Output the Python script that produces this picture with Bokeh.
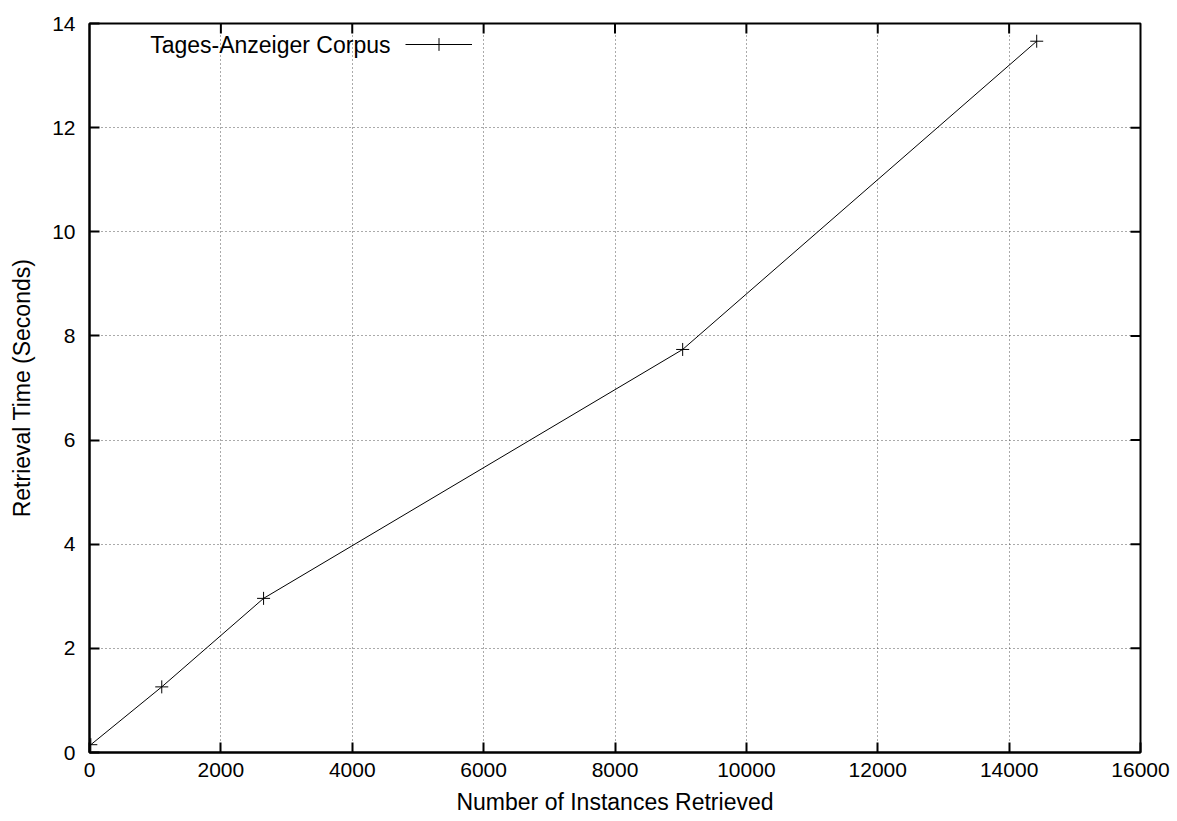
import math
from bokeh.plotting import figure
from bokeh.models import (FixedTicker, Range1d, Legend, LegendItem, Label,
                          ColumnDataSource)
from bokeh.embed import file_html
from bokeh.resources import INLINE

instances = [20, 1100, 2650, 9030, 14420]
seconds = [0.15, 1.26, 2.96, 7.74, 13.66]
series_name = "Tages-Anzeiger Corpus"
x_ticks = [0, 2000, 4000, 6000, 8000, 10000, 12000, 14000, 16000]
y_ticks = [0, 2, 4, 6, 8, 10, 12, 14]

FONT = "Liberation Sans"
FS_TICK = "21px"
FS_LABEL = "23px"

x_min, x_max = x_ticks[0], x_ticks[-1]
y_min, y_max = y_ticks[0], y_ticks[-1]

p = figure(width=1170, height=821, output_backend="svg", toolbar_location=None,
           x_range=Range1d(x_min, x_max), y_range=Range1d(y_min, y_max),
           min_border_left=89, min_border_right=30, min_border_top=23, min_border_bottom=69,
           x_axis_label="Number of Instances Retrieved",
           y_axis_label="Retrieval Time (Seconds)")
p.outline_line_color = "black"
p.outline_line_width = 2
p.background_fill_color = "white"
p.border_fill_color = "white"

def style_axis(ax, ticks):
    ax.ticker = FixedTicker(ticks=ticks)
    ax.major_tick_in = 10
    ax.major_tick_out = 0
    ax.minor_tick_line_color = None
    ax.axis_line_width = 2
    ax.major_tick_line_width = 2
    ax.axis_line_color = "black"
    ax.major_tick_line_color = "black"
    ax.major_label_text_font = FONT
    ax.major_label_text_font_size = FS_TICK
    ax.major_label_text_color = "black"
    ax.axis_label_text_font = FONT
    ax.axis_label_text_font_size = FS_LABEL
    ax.axis_label_text_font_style = "normal"
    ax.axis_label_text_color = "black"

style_axis(p.xaxis[0], x_ticks)
style_axis(p.yaxis[0], y_ticks)
p.xaxis[0].major_label_standoff = 10
p.xaxis[0].axis_label_standoff = 9
p.yaxis[0].major_label_standoff = 14
p.yaxis[0].axis_label_standoff = 14

for g in (p.xgrid[0], p.ygrid[0]):
    g.grid_line_color = "#555555"
    g.grid_line_dash = "1 3"
    g.grid_line_width = 1
p.xgrid[0].ticker = FixedTicker(ticks=x_ticks[1:-1])
p.ygrid[0].ticker = FixedTicker(ticks=y_ticks[1:-1])

# mirrored inward ticks on the top and right edges (half of each dash is clipped by the frame)
p.scatter(x_ticks[1:-1], [y_max] * (len(x_ticks) - 2), marker="dash", angle=math.pi / 2,
          size=20, line_color="black", line_width=2)
p.scatter([x_max] * (len(y_ticks) - 2), y_ticks[1:-1], marker="dash",
          size=20, line_color="black", line_width=2)

src = ColumnDataSource(dict(x=instances, y=seconds))
ln = p.line("x", "y", source=src, line_color="black", line_width=1)
mk = p.scatter("x", "y", source=src, marker="cross", size=13, line_color="black", line_width=1)

legend = Legend(items=[LegendItem(label=" ", renderers=[ln, mk])],
                location=(316, 692), glyph_width=67, glyph_height=32,
                padding=0, margin=0, spacing=0, label_standoff=0, label_width=0,
                border_line_color=None, background_fill_alpha=0,
                label_text_font_size="1px")
p.add_layout(legend, "center")

lab = Label(x=301, y=708, x_units="screen", y_units="screen", text=series_name,
            text_align="right", text_baseline="middle",
            text_font=FONT, text_font_size=FS_LABEL, text_color="black")
p.add_layout(lab)

open("out.html", "w").write(file_html(p, INLINE))
